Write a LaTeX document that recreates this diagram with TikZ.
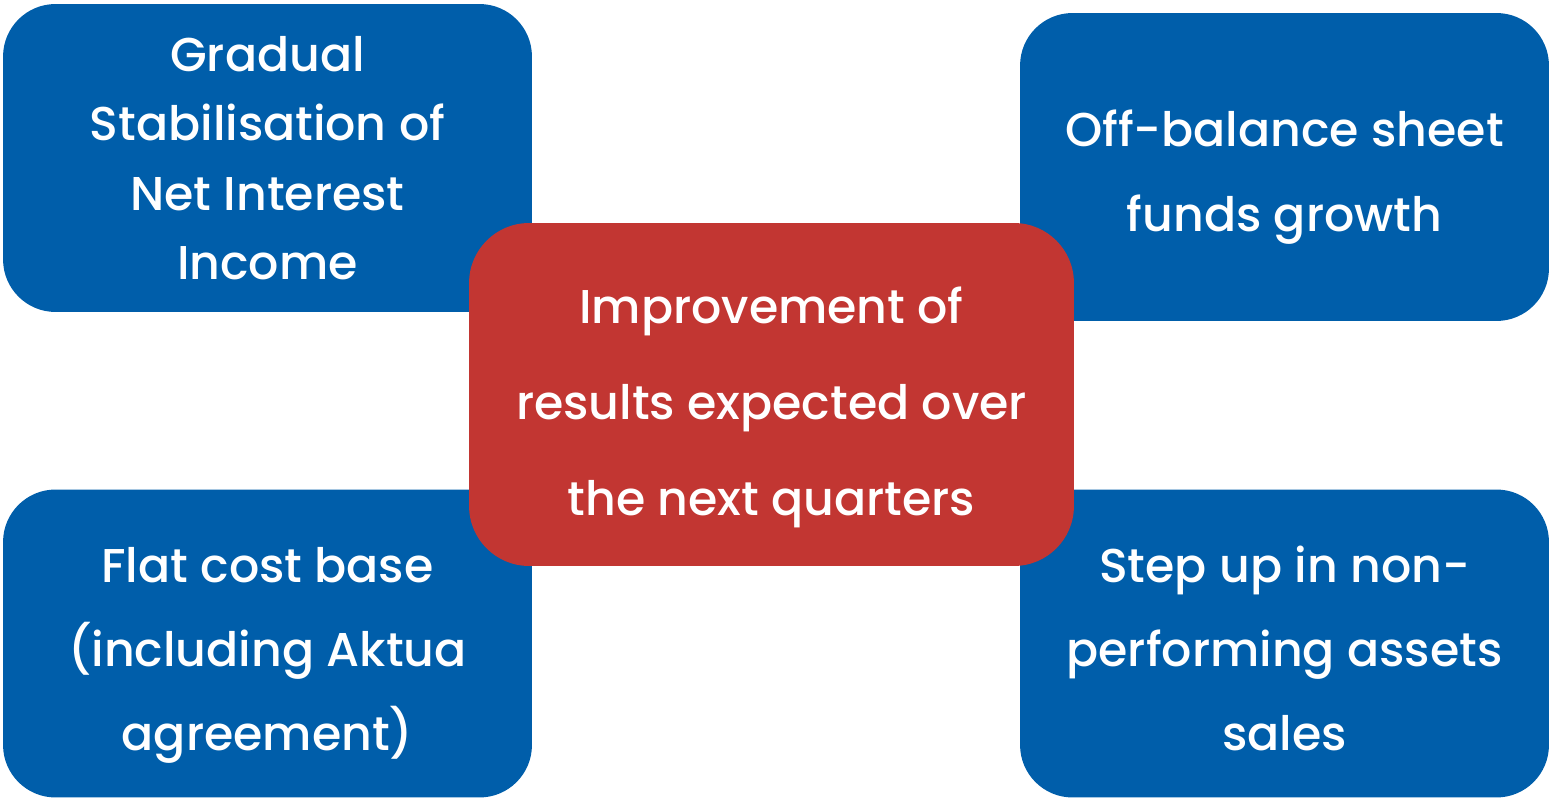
\documentclass[tikz,border=0pt]{standalone}
\usepackage{fontspec}
\IfFontExistsTF{Poppins Medium}{\setmainfont{Poppins Medium}}{\setmainfont{Poppins}[UprightFont=*,BoldFont=*]}
\usepackage{xcolor}
\definecolor{boxblue}{RGB}{0,94,170}
\definecolor{boxred}{RGB}{194,54,50}

\begin{document}
\begin{tikzpicture}[x=0.02cm, y=-0.02cm,
  outer/.style={rectangle, fill=boxblue, rounded corners=1.05cm, minimum width=10.58cm, minimum height=6.16cm, inner sep=0pt},
  hub/.style={rectangle, fill=boxred, rounded corners=1.2cm, minimum width=12.1cm, minimum height=6.86cm, inner sep=0pt},
  caption/.style={align=center, text=white, inner sep=0pt}]
\useasboundingbox (0,0) rectangle (1551,803);
% blue boxes
\node[outer] (income) at (267.5,158) {};
\node[outer] (funds) at (1284.5,167) {};
\node[outer] (costs) at (267.5,643.5) {};
\node[outer] (sales) at (1284.5,643.5) {};
% red box on top
\node[hub] (results) at (771.5,394.5) {};
% texts
\node[caption, font=\fontsize{27}{39.5}\selectfont] (income-text) at (income.center) {Gradual\\Stabilisation of\\Net Interest\\Income};
\node[caption, font=\fontsize{27}{48}\selectfont] (funds-text) at ([yshift=-0.2cm]funds.center) {Off-balance sheet\\funds growth};
\node[caption, font=\fontsize{27}{48}\selectfont] (costs-text) at ([yshift=-0.24cm]costs.center) {Flat cost base\\(including Aktua\\agreement)};
\node[caption, font=\fontsize{27}{48}\selectfont] (sales-text) at ([yshift=-0.1cm]sales.center) {Step up in non-\\performing assets\\sales};
\node[caption, font=\fontsize{27}{54.5}\selectfont] (results-text) at ([yshift=-0.26cm]results.center) {Improvement of\\results expected over\\the next quarters};
\end{tikzpicture}
\end{document}
